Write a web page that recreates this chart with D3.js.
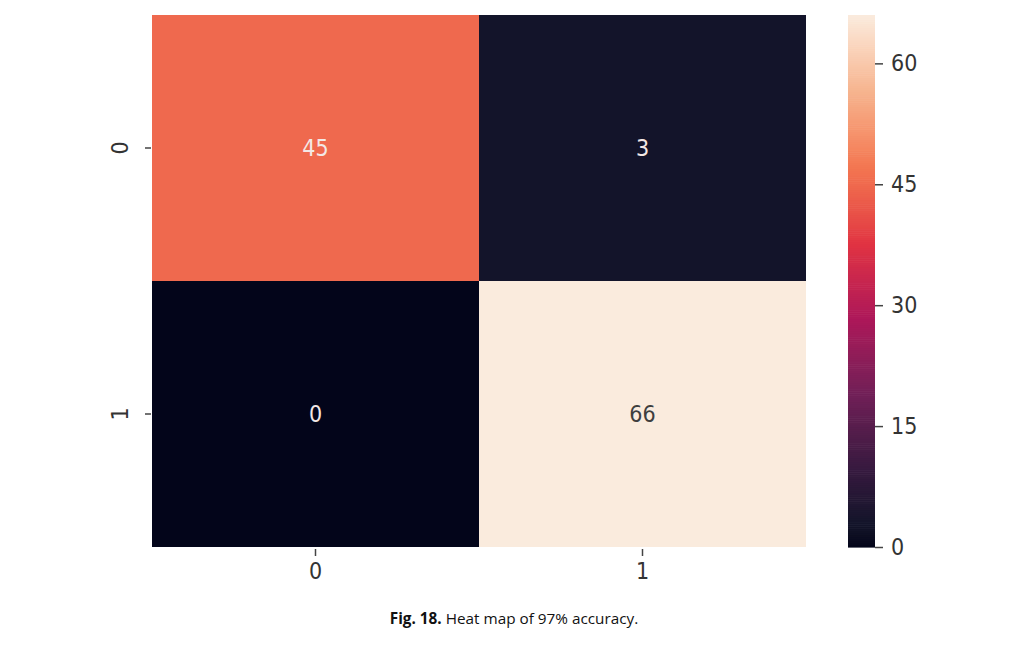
<!DOCTYPE html>
<html><head><meta charset="utf-8">
<script src="https://cdn.jsdelivr.net/npm/d3@7"></script>
<style>body{margin:0;background:#fff;}svg{display:block;}</style>
</head><body>
<svg id="c" width="1013" height="648"></svg>
<script>
const rowLabels = ["0", "1"];
const colLabels = ["0", "1"];
const values = [[45, 3], [0, 66]];
const cbarTicks = [0, 15, 30, 45, 60];
const vmin = 0, vmax = 66;
const caption = {bold: "Fig. 18.", rest: " Heat map of 97% accuracy."};

const rocketPos = [0, 0.045, 0.143, 0.286, 0.429, 0.571, 0.714, 0.857, 1];
const rocketStops = ["#03051a","#13142a","#35193e","#701f57","#ad1759","#e13342","#f37651","#f6b48f","#faebdd"];
const color = d3.scaleLinear()
  .domain(rocketPos.map(p=>vmin + (vmax-vmin)*p))
  .range(rocketStops).interpolate(d3.interpolateLab);

const svg = d3.select("#c");
const L = 152, R = 806, T = 15, B = 547;
const x = d3.scaleBand().domain(colLabels).range([L, R]);
const y = d3.scaleBand().domain(rowLabels).range([T, B]);
const font = "DejaVu Sans Condensed, DejaVu Sans, sans-serif";

const cells = [];
values.forEach((row,i)=>row.forEach((v,j)=>cells.push({r:rowLabels[i], c:colLabels[j], v})));

svg.selectAll("rect.cell").data(cells).join("rect")
  .attr("x", d=>x(d.c)).attr("y", d=>y(d.r))
  .attr("width", x.bandwidth()).attr("height", y.bandwidth())
  .attr("fill", d=>color(d.v));

svg.selectAll("text.ann").data(cells).join("text")
  .attr("x", d=>x(d.c)+x.bandwidth()/2).attr("y", d=>y(d.r)+y.bandwidth()/2)
  .attr("text-anchor","middle").attr("dominant-baseline","central")
  .attr("font-family", font).attr("font-size", 23)
  .attr("fill", d => d.v/vmax > 0.8 ? "#3e3e3e" : "#f3e8e6")
  .text(d=>d.v);

// axes
const xAxis = d3.axisBottom(x).tickSize(7).tickPadding(7);
const gx = svg.append("g").attr("transform",`translate(0,${B+2})`).call(xAxis);
gx.select(".domain").remove();
gx.selectAll("line").attr("stroke","#444").attr("stroke-width",1.5);
gx.selectAll("text").attr("font-family",font).attr("font-size",23).attr("fill","#333");

const yAxis = d3.axisLeft(y).tickSize(6).tickPadding(8);
const gy = svg.append("g").attr("transform",`translate(${L-1},0)`).call(yAxis);
gy.select(".domain").remove();
gy.selectAll("line").attr("stroke","#444").attr("stroke-width",1.5);
gy.selectAll("text").attr("font-family",font).attr("font-size",23).attr("fill","#333")
  .attr("text-anchor","middle").attr("dy",null).attr("dominant-baseline","central")
  .attr("transform","translate(-31,0) rotate(-90)").attr("x",0);

// colorbar
const cbL = 848, cbW = 27;
const cy = d3.scaleLinear().domain([vmin, vmax]).range([B, T]);
const steps = d3.range(0, 256);
svg.append("g").selectAll("rect").data(steps).join("rect")
  .attr("x", cbL).attr("width", cbW)
  .attr("y", d=>cy(vmin + (vmax-vmin)*(d+1)/256))
  .attr("height", d=>cy(vmin + (vmax-vmin)*d/256) - cy(vmin + (vmax-vmin)*(d+1)/256) + 0.6)
  .attr("fill", d=>color(vmin + (vmax-vmin)*(d+0.5)/256));
const gc = svg.append("g").attr("transform",`translate(${cbL+cbW},0)`)
  .call(d3.axisRight(cy).tickValues(cbarTicks).tickSize(8).tickPadding(8));
gc.select(".domain").remove();
gc.selectAll("line").attr("stroke","#444").attr("stroke-width",1.5);
gc.selectAll("text").attr("font-family",font).attr("font-size",23).attr("fill","#333");

// caption
const cap = svg.append("text").attr("x", 514).attr("y", 624).attr("text-anchor","middle")
  .attr("font-family","Open Sans, Liberation Sans, sans-serif").attr("font-size",15.3).attr("fill","#111");
cap.append("tspan").attr("font-weight","bold").text(caption.bold);
cap.append("tspan").text(caption.rest);
</script>
</body></html>
